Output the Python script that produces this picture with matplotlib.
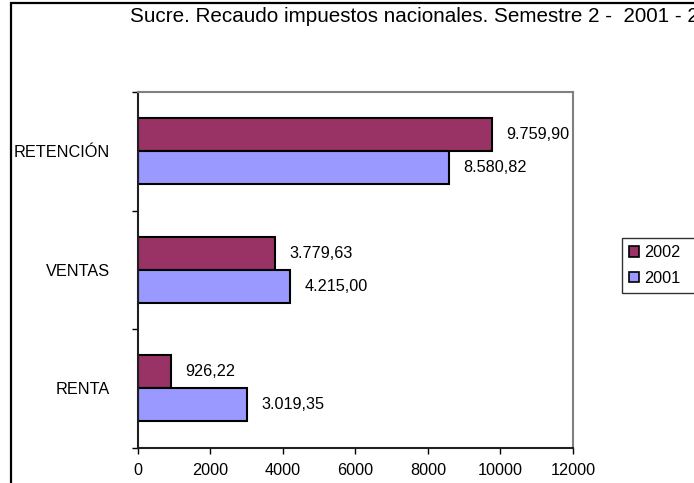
import matplotlib
matplotlib.use("Agg")
import matplotlib.pyplot as plt
from matplotlib.patches import Patch, Rectangle

plt.rcParams['font.family'] = ['Liberation Sans', 'DejaVu Sans']

categories = ["RENTA", "VENTAS", "RETENCIÓN"]
values_2001 = [3019.35, 4215.00, 8580.82]
values_2002 = [926.22, 3779.63, 9759.90]
labels_2001 = ["3.019,35", "4.215,00", "8.580,82"]
labels_2002 = ["926,22", "3.779,63", "9.759,90"]
xticks = [0, 2000, 4000, 6000, 8000, 10000, 12000]
title = "Sucre. Recaudo impuestos nacionales. Semestre 2 -  2001 - 2002"

c2002 = "#993366"
c2001 = "#9999FF"
FS = 11.7
W, H = 694, 483

fig = plt.figure(figsize=(W / 100, H / 100), dpi=100)
fig.patch.set_facecolor("white")

# outer chart frame (left and top visible, rest cropped as in the reference)
fig.add_artist(Rectangle((11 / W, -0.1), 1.2, (H - 3.5) / H + 0.1, transform=fig.transFigure,
                         fill=False, edgecolor="black", linewidth=1.6))

ax = fig.add_axes([137.5 / W, 1 - 447.5 / H, (573 - 137.5) / W, (447.5 - 92) / H])
pos = list(range(len(categories)))
h = 0.28
b2002 = ax.barh([p + h / 2 for p in pos], values_2002, height=h, color=c2002,
                edgecolor="black", linewidth=1.5, label="2002")
b2001 = ax.barh([p - h / 2 for p in pos], values_2001, height=h, color=c2001,
                edgecolor="black", linewidth=1.5, label="2001")

for bars, labs in ((b2002, labels_2002), (b2001, labels_2001)):
    for r, t in zip(bars, labs):
        ax.annotate(t, (r.get_width(), r.get_y() + r.get_height() / 2),
                    xytext=(10.5, 0), textcoords="offset points",
                    ha="left", va="center", fontsize=FS)

ax.set_xlim(0, 12000)
ax.set_ylim(-0.5, len(categories) - 0.5)
ax.set_xticks(xticks)
ax.set_xticklabels([str(v) for v in xticks], fontsize=FS)
ax.set_yticks([p - 0.5 for p in range(len(categories) + 1)])
ax.set_yticklabels([])
ax.set_yticks(pos, minor=True)
ax.set_yticklabels(categories, minor=True, fontsize=FS)
ax.tick_params(axis="y", which="minor", length=0, pad=20)
ax.tick_params(axis="y", which="major", length=4, width=1, direction="out")
ax.tick_params(axis="x", length=4, width=1, direction="out", pad=7)

for s in ("top", "right"):
    ax.spines[s].set_color("#808080")
    ax.spines[s].set_linewidth(1.5)
for s in ("left", "bottom"):
    ax.spines[s].set_color("#202020")
    ax.spines[s].set_linewidth(1.5)

fig.text(130 / W, 1 - 17 / H, title, ha="left", va="center", fontsize=14.85)

handles = [Patch(facecolor=c2002, edgecolor="black", linewidth=1.2, label="2002"),
           Patch(facecolor=c2001, edgecolor="black", linewidth=1.2, label="2001")]
leg = fig.legend(handles=handles, loc="upper left",
                 bbox_to_anchor=(622 / W, 1 - 238 / H, 90 / W, 0), mode="expand",
                 fontsize=FS, frameon=True, fancybox=False, handlelength=0.6, handleheight=0.6,
                 handletextpad=0.3, borderpad=0.45, labelspacing=0.65, borderaxespad=0)
leg.get_frame().set_edgecolor("black")
leg.get_frame().set_linewidth(1.0)

fig.savefig("out.png", dpi=100)
